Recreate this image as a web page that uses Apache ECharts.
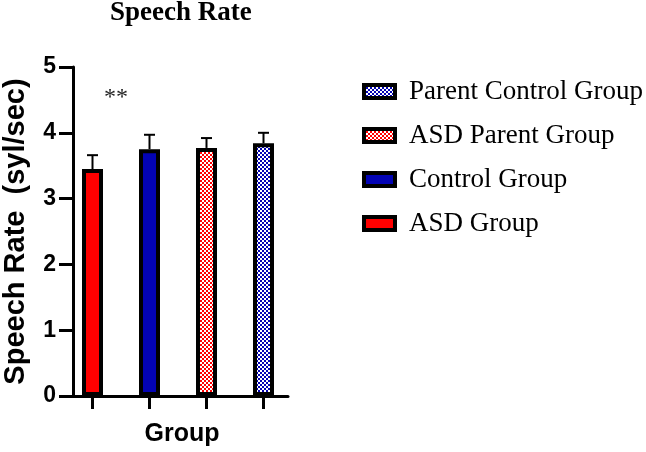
<!DOCTYPE html>
<html><head><meta charset="utf-8">
<script src="https://cdn.jsdelivr.net/npm/echarts@6/dist/echarts.min.js"></script>
<style>html,body{margin:0;padding:0;background:#fff}#c{width:646px;height:452px}</style>
</head><body><div id="c"></div>
<script>
const categories = ['ASD Group', 'Control Group', 'ASD Parent Group', 'Parent Control Group'];
const means = [3.45, 3.75, 3.77, 3.84];
const errorTops = [3.66, 3.97, 3.92, 4.00];
const yTicks = [0, 1, 2, 3, 4, 5];
const legendOrder = ['Parent Control Group', 'ASD Parent Group', 'Control Group', 'ASD Group'];

function checker(c) {
  const cv = document.createElement('canvas');
  cv.width = 4; cv.height = 4;
  const g = cv.getContext('2d');
  g.fillStyle = '#ffffff'; g.fillRect(0, 0, 4, 4);
  g.fillStyle = c; g.fillRect(0, 0, 2, 2); g.fillRect(2, 2, 2, 2);
  return cv;
}
const RED = '#ff0000', BLUE = '#0303b4';
const isPattern = [false, false, true, true];
const baseColors = [RED, BLUE, RED, BLUE];
const fills = baseColors.map((c, i) => isPattern[i] ? { image: checker(c), repeat: 'repeat' } : c);

function legendIcon(i) {
  const cv = document.createElement('canvas');
  cv.width = 35; cv.height = 17;
  const g = cv.getContext('2d');
  g.fillStyle = '#000'; g.fillRect(0, 0, 35, 17);
  if (isPattern[i]) {
    g.fillStyle = g.createPattern(checker(baseColors[i]), 'repeat');
  } else {
    g.fillStyle = baseColors[i];
  }
  g.fillRect(4, 4, 27, 9);
  return 'image://' + cv.toDataURL();
}

const chart = echarts.init(document.getElementById('c'), null, { renderer: 'canvas' });
const barSeries = categories.map((name, i) => ({
  name: name, type: 'bar', stack: 'all', xAxisIndex: 0, yAxisIndex: 0,
  barWidth: 21, z: 3,
  data: categories.map((c, j) => j === i ? means[i] : '-'),
  itemStyle: { color: fills[i], borderColor: '#000', borderWidth: 4 }
}));
const errSeries = {
  type: 'custom', xAxisIndex: 0, yAxisIndex: 0, z: 2, silent: true,
  data: categories.map((c, i) => [i, means[i], errorTops[i]]),
  renderItem: function (params, api) {
    const base = api.coord([api.value(0), api.value(1)]);
    const top = api.coord([api.value(0), api.value(2)]);
    const hw = 5.5;
    return { type: 'group', children: [
      { type: 'line', shape: { x1: base[0], y1: base[1], x2: top[0], y2: top[1] }, style: { stroke: '#000', lineWidth: 2 } },
      { type: 'line', shape: { x1: top[0] - hw, y1: top[1], x2: top[0] + hw, y2: top[1] }, style: { stroke: '#000', lineWidth: 2 } }
    ]};
  }
};

chart.setOption({
  animation: false,
  title: [
    { text: 'Speech Rate', left: 110, top: 0, padding: 0,
      textStyle: { fontFamily: 'Liberation Serif', fontWeight: 'bold', fontSize: 27, color: '#000' } },
    { text: '**', left: 104, top: 86, padding: 0,
      textStyle: { fontFamily: 'Liberation Serif', fontWeight: 'normal', fontSize: 24, color: '#222' } }
  ],
  legend: {
    orient: 'vertical', left: 357, top: 73, itemWidth: 35, itemHeight: 17, itemGap: 17,
    data: legendOrder.map(n => ({ name: n, icon: legendIcon(categories.indexOf(n)) })),
    textStyle: { fontFamily: 'Liberation Serif', fontSize: 27, color: '#000', lineHeight: 27, padding: [0, 0, 0, 7] }
  },
  grid: [
    { left: 64, width: 228, top: 67, bottom: 56 },
    { left: 70, width: 218, top: 67, bottom: 56 }
  ],
  xAxis: [
    { type: 'category', gridIndex: 0, data: categories,
      axisLine: { show: false },
      axisTick: { show: true, alignWithLabel: true, interval: 0, length: 13, lineStyle: { color: '#000', width: 3 } },
      axisLabel: { show: false, interval: 0 },
      name: 'Group', nameLocation: 'middle', nameGap: 26,
      nameTextStyle: { fontFamily: 'Liberation Sans', fontWeight: 'bold', fontSize: 25, color: '#000', padding: [0, 0, 0, 8] } },
    { type: 'value', gridIndex: 1, min: 0, max: 1, show: true,
      axisLine: { show: true, onZero: false, lineStyle: { color: '#000', width: 3 } },
      axisTick: { show: false }, axisLabel: { show: false }, splitLine: { show: false } }
  ],
  yAxis: [
    { type: 'value', gridIndex: 0, min: 0, max: 5, interval: 1, show: false },
    { type: 'value', gridIndex: 1, min: yTicks[0], max: yTicks[yTicks.length - 1], interval: 1,
      axisLine: { show: true, lineStyle: { color: '#000', width: 3 } },
      axisTick: { show: true, length: 14, lineStyle: { color: '#000', width: 3 } },
      axisLabel: { margin: 17, fontFamily: 'Liberation Sans', fontWeight: 'bold', fontSize: 23, color: '#000' },
      splitLine: { show: false },
      name: 'Speech Rate  (syl/sec)', nameLocation: 'middle', nameGap: 43, nameRotate: 90,
      nameTextStyle: { fontFamily: 'Liberation Sans', fontWeight: 'bold', fontSize: 29, color: '#000' } }
  ],
  series: barSeries.concat([errSeries])
});
</script></body></html>
